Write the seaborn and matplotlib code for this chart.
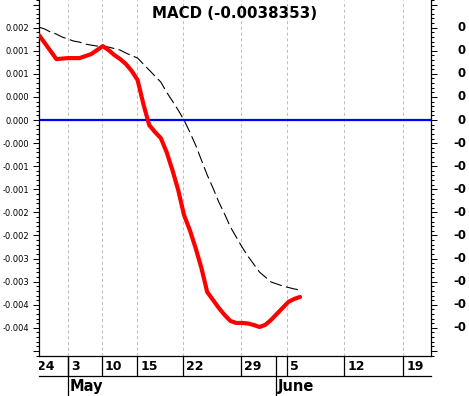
import numpy as np
import matplotlib
matplotlib.use("Agg")
import matplotlib.pyplot as plt
import matplotlib.transforms as mtransforms
from matplotlib.ticker import MultipleLocator
import seaborn as sns

# MACD line, one value per bar (oldest first)
macd = [0.001840, 0.001667, 0.001494, 0.001320, 0.001331, 0.001342, 0.001342, 0.001342,
        0.001385, 0.001429, 0.001515, 0.001602, 0.001515, 0.001407, 0.001320, 0.001212,
        0.001061, 0.000866, 0.000346, -0.000108, -0.000260, -0.000390, -0.000693, -0.001082,
        -0.001515, -0.002056, -0.002381, -0.002771, -0.003203, -0.003723, -0.003896, -0.004069,
        -0.004221, -0.004351, -0.004394, -0.004394, -0.004405, -0.004437, -0.004481, -0.004437,
        -0.004329, -0.004199, -0.004069, -0.003939, -0.003874, -0.003831]
# signal line (dashed)
signal = [0.002013, 0.001970, 0.001905, 0.001861, 0.001797, 0.001753, 0.001710, 0.001688,
          0.001645, 0.001623, 0.001602, 0.001602, 0.001580, 0.001548, 0.001515, 0.001450,
          0.001396, 0.001342, 0.001212, 0.001082, 0.000952, 0.000823, 0.000606, 0.000411,
          0.000216, 0.000000, -0.000260, -0.000541, -0.000866, -0.001190, -0.001472, -0.001775,
          -0.002035, -0.002316, -0.002532, -0.002749, -0.002944, -0.003117, -0.003290, -0.003398,
          -0.003506, -0.003550, -0.003593, -0.003626, -0.003658, -0.003680]

title = "MACD (-0.0038353)"

# date axis (bar positions)
day_labels = ["24", "3", "10", "15", "22", "29", "5", "12", "19"]
day_pos = [-0.9, 5.0, 10.86, 16.9, 24.83, 34.83, 42.76, 52.59, 62.76]
month_labels = ["May", "June"]
month_pos = [5.0, 40.86]

# value axis
y_ticks = [-0.005, -0.0045, -0.004, -0.0035, -0.003, -0.0025, -0.002, -0.0015,
           -0.001, -0.0005, 0.0, 0.0005, 0.001, 0.0015, 0.002, 0.0025]
left_labels = ["", "-0.004", "-0.004", "-0.003", "-0.003", "-0.002", "-0.002", "-0.001",
               "-0.001", "-0.000", "0.000", "0.000", "0.001", "0.001", "0.002", ""]
right_labels = ["", "-0", "-0", "-0", "-0", "-0", "-0", "-0",
                "-0", "-0", "0", "0", "0", "0", "0", ""]

sns.set_style("white")
plt.rcParams["font.family"] = ["DejaVu Sans"]
plt.rcParams["text.color"] = "black"
plt.rcParams["ytick.color"] = "black"
plt.rcParams["ytick.labelcolor"] = "black"

W, H = 469, 396
fig = plt.figure(figsize=(W / 100, H / 100), dpi=100)
L, R, B = 39, 431, 356
ax = fig.add_axes([L / W, (H - B) / H, (R - L) / W, B / H])
ax_day = fig.add_axes([L / W, (H - 376) / H, (R - L) / W, 20 / H], sharex=ax)
ax_mon = fig.add_axes([L / W, 0, (R - L) / W, 20 / H], sharex=ax)

x_idx = np.arange(len(macd))

# grid + zero line
for p in day_pos:
    ax.axvline(p, color="#c0c0c0", lw=0.75, linestyle=(0, (3, 2.5)), zorder=0)
ax.axhline(0, color="#0000ff", lw=1.6, zorder=1)

sns.lineplot(x=x_idx, y=signal, ax=ax, color="black", lw=0.8,
             linestyle=(0, (11, 4)), zorder=2)
sns.lineplot(x=x_idx, y=macd, ax=ax, color="#ff0000", lw=3, zorder=3)

ax.set_xlim(0, (R - L) / 5.8)
ax.set_ylim(-0.00511, 0.0026)
ax.set_xlabel("")
ax.set_ylabel("")

ax.set_yticks(y_ticks, left_labels)
ax.yaxis.set_minor_locator(MultipleLocator(0.0001))
ax.tick_params(axis="y", which="both", direction="out", left=True, right=True,
               labelleft=True, labelright=False, labelsize=6, pad=2.5,
               colors="black", labelcolor="black")
ax.tick_params(axis="y", which="major", length=4.3, width=0.75)
ax.tick_params(axis="y", which="minor", length=2.3, width=0.75)
ax.tick_params(axis="x", bottom=False, labelbottom=False)

ytr = ax.get_yaxis_transform()
for v, lab in zip(y_ticks, right_labels):
    if lab:
        ax.text((466 - L) / (R - L), v, lab, transform=ytr, ha="right", va="center",
                fontsize=8.5, fontweight="bold", color="black")

for s in ["left", "right", "bottom"]:
    ax.spines[s].set_color("black")
    ax.spines[s].set_linewidth(0.9)
ax.spines["top"].set_visible(False)

fig.text(235 / W, 1 - 14 / H, title, ha="center", va="center",
         fontsize=10.8, fontweight="bold", color="black")

# day row
off = mtransforms.offset_copy(ax_day.get_xaxis_transform(), fig=fig, x=2.2, units="points")
ax_day.vlines(day_pos + month_pos, 0, 1, transform=ax_day.get_xaxis_transform(),
              color="black", lw=0.9)
for p, lab in zip(day_pos, day_labels):
    ax_day.text(p, 0.48, lab, transform=off, ha="left", va="center",
                fontsize=9, fontweight="bold", color="black", clip_on=True)
for s in ["left", "right", "top"]:
    ax_day.spines[s].set_visible(False)
ax_day.spines["bottom"].set_color("black")
ax_day.spines["bottom"].set_linewidth(0.9)
ax_day.tick_params(left=False, bottom=False, labelleft=False, labelbottom=False)
ax_day.patch.set_alpha(0)

# month row
off_m = mtransforms.offset_copy(ax_mon.get_xaxis_transform(), fig=fig, x=1.2, units="points")
ax_mon.vlines(month_pos, 0, 1, transform=ax_mon.get_xaxis_transform(), color="black", lw=0.9)
for p, lab in zip(month_pos, month_labels):
    ax_mon.text(p, 0.45, lab, transform=off_m, ha="left", va="center",
                fontsize=10.5, fontweight="bold", color="black", clip_on=True)
for s in ax_mon.spines.values():
    s.set_visible(False)
ax_mon.tick_params(left=False, bottom=False, labelleft=False, labelbottom=False)
ax_mon.patch.set_alpha(0)

fig.savefig("out.png", dpi=100)
